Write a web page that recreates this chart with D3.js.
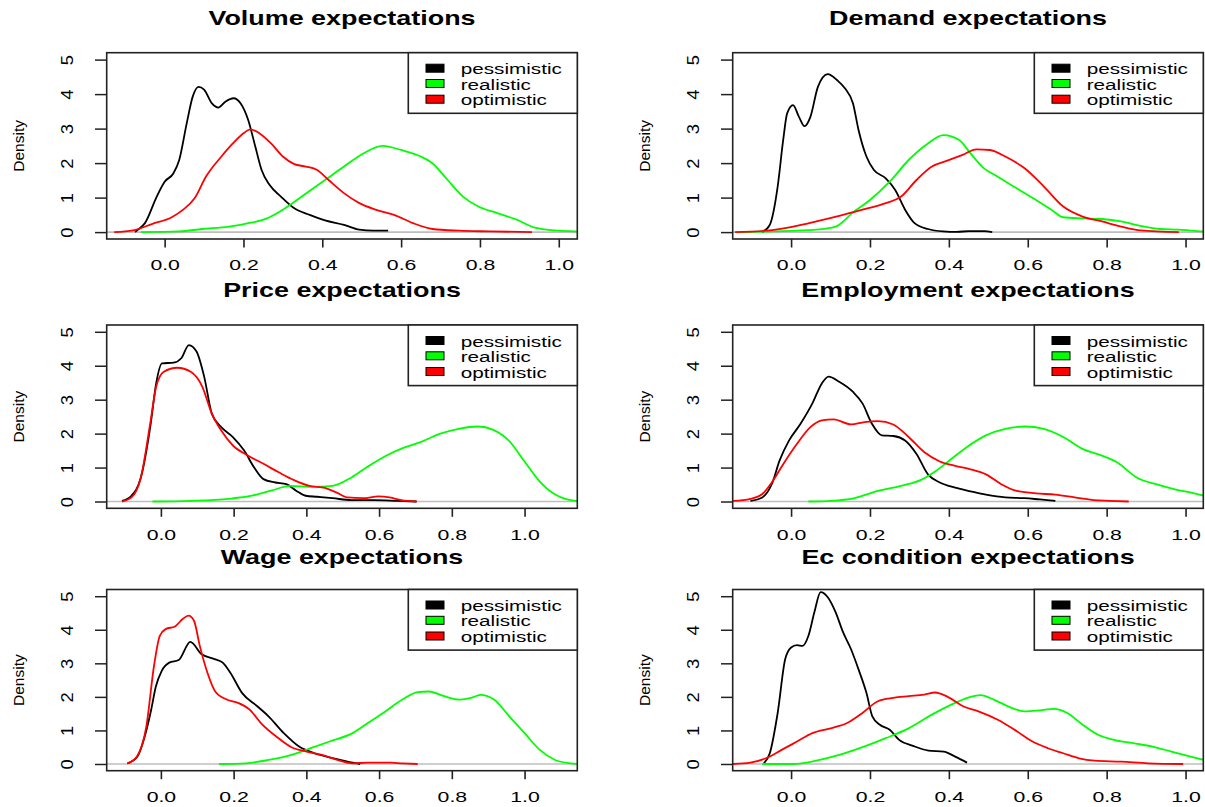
<!DOCTYPE html>
<html>
<head>
<meta charset="utf-8">
<script src="https://cdn.jsdelivr.net/npm/d3@7"></script>
<style>
  html, body { margin: 0; padding: 0; background: #ffffff; }
  svg { display: block; }
  text { font-family: "Liberation Sans", Arial, sans-serif; fill: #000; }
</style>
</head>
<body>
<svg id="chart" width="1205" height="807"></svg>
<script>
// ---------------- DATA ----------------
const titles = ["Volume expectations", "Demand expectations", "Price expectations",
                "Employment expectations", "Wage expectations", "Ec condition expectations"];
const seriesNames = ["pessimistic", "realistic", "optimistic"];
const seriesColors = ["#000000", "#00FF00", "#FF0000"];
const xTicks = [0, 0.2, 0.4, 0.6, 0.8, 1.0];
const xTickLabels = ["0.0", "0.2", "0.4", "0.6", "0.8", "1.0"];
const yTicks = [0, 1, 2, 3, 4, 5];
const yTickLabels = ["0", "1", "2", "3", "4", "5"];
const yRange = [-0.2, 5.2];
const xRangeMin = [-0.147, -0.148, -0.149, -0.148, -0.149, -0.148];
const xRangeMax = [1.047, 1.045, 1.145, 1.045, 1.145, 1.045];

// Volume
const volumePessimistic = [[-0.075,0],[-0.07,0.05],[-0.05,0.26],[-0.02,1.03],[0,1.46],[0.022,1.7],[0.037,2.09],[0.056,3.15],[0.071,3.92],[0.086,4.21],[0.10,4.13],[0.12,3.73],[0.136,3.61],[0.154,3.78],[0.175,3.88],[0.193,3.73],[0.212,3.25],[0.23,2.48],[0.246,1.80],[0.266,1.37],[0.295,1.03],[0.329,0.69],[0.368,0.50],[0.407,0.34],[0.455,0.21],[0.494,0.07],[0.53,0.04],[0.567,0.04]];
const volumeRealistic = [[-0.06,0],[0.037,0.02],[0.095,0.09],[0.163,0.16],[0.222,0.28],[0.26,0.40],[0.30,0.65],[0.348,1.03],[0.407,1.51],[0.455,1.90],[0.504,2.28],[0.553,2.50],[0.60,2.38],[0.65,2.19],[0.68,1.99],[0.718,1.51],[0.757,1.03],[0.796,0.74],[0.844,0.55],[0.893,0.36],[0.942,0.12],[0.99,0.05],[1.04,0.02],[1.06,0.01]];
const volumeOptimistic = [[-0.128,0],[-0.08,0.05],[-0.031,0.24],[0.018,0.43],[0.047,0.65],[0.076,0.98],[0.105,1.61],[0.144,2.19],[0.173,2.57],[0.202,2.88],[0.217,2.98],[0.241,2.86],[0.27,2.57],[0.30,2.19],[0.329,1.97],[0.358,1.90],[0.387,1.80],[0.416,1.51],[0.455,1.13],[0.494,0.84],[0.533,0.66],[0.582,0.50],[0.63,0.26],[0.68,0.09],[0.747,0.04],[0.825,0.02],[0.932,0]];

// Demand
const demandPessimistic = [[-0.073,0],[-0.054,0.21],[-0.034,1.32],[-0.02,2.67],[-0.01,3.44],[0.005,3.68],[0.02,3.34],[0.034,3.07],[0.049,3.34],[0.068,4.21],[0.093,4.58],[0.117,4.40],[0.137,4.16],[0.157,3.73],[0.171,2.96],[0.191,2.19],[0.21,1.80],[0.24,1.56],[0.264,1.22],[0.289,0.65],[0.313,0.26],[0.347,0.09],[0.386,0.02],[0.42,0.005],[0.45,0.03],[0.49,0.03],[0.51,0]];
const demandRealistic = [[-0.137,0],[-0.044,0.02],[0.064,0.07],[0.113,0.16],[0.16,0.60],[0.20,0.93],[0.25,1.46],[0.298,2.09],[0.347,2.57],[0.386,2.81],[0.426,2.67],[0.455,2.28],[0.484,1.90],[0.523,1.61],[0.572,1.27],[0.621,0.93],[0.66,0.65],[0.69,0.43],[0.739,0.40],[0.788,0.38],[0.837,0.31],[0.886,0.18],[0.934,0.09],[0.983,0.07],[1.042,0.02],[1.06,0.01]];
const demandOptimistic = [[-0.142,0],[-0.054,0.05],[0.005,0.16],[0.064,0.31],[0.122,0.47],[0.181,0.65],[0.24,0.84],[0.279,1.03],[0.318,1.51],[0.357,1.90],[0.396,2.07],[0.435,2.24],[0.47,2.40],[0.504,2.38],[0.543,2.19],[0.592,1.85],[0.641,1.32],[0.69,0.74],[0.739,0.45],[0.788,0.31],[0.837,0.16],[0.886,0.05],[0.983,0]];

// Price
const pricePessimistic = [[-0.107,0.02],[-0.081,0.17],[-0.055,0.71],[-0.028,2.29],[-0.013,3.48],[0.003,4.07],[0.035,4.09],[0.056,4.22],[0.077,4.61],[0.098,4.42],[0.119,3.68],[0.14,2.59],[0.166,2.19],[0.198,1.90],[0.229,1.50],[0.256,1.01],[0.282,0.66],[0.314,0.56],[0.345,0.51],[0.372,0.32],[0.398,0.17],[0.43,0.14],[0.472,0.10],[0.524,0.04],[0.587,0.04],[0.65,0.02],[0.703,0]];
const priceRealistic = [[-0.023,0],[0.082,0.02],[0.187,0.08],[0.25,0.17],[0.303,0.32],[0.356,0.46],[0.419,0.43],[0.472,0.46],[0.524,0.71],[0.566,1.01],[0.619,1.35],[0.672,1.60],[0.714,1.75],[0.766,1.99],[0.819,2.14],[0.872,2.21],[0.914,2.11],[0.956,1.80],[0.998,1.21],[1.04,0.61],[1.082,0.22],[1.114,0.07],[1.14,0.02],[1.16,0.01]];
const priceOptimistic = [[-0.107,0],[-0.081,0.12],[-0.055,0.71],[-0.028,2.39],[-0.013,3.38],[0.008,3.82],[0.045,3.94],[0.082,3.82],[0.114,3.38],[0.14,2.59],[0.166,2.09],[0.198,1.65],[0.24,1.35],[0.282,1.11],[0.324,0.86],[0.366,0.63],[0.408,0.46],[0.451,0.40],[0.482,0.27],[0.514,0.12],[0.556,0.10],[0.598,0.15],[0.629,0.12],[0.661,0.04],[0.703,0]];

// Employment
const employmentPessimistic = [[-0.103,0.02],[-0.073,0.12],[-0.049,0.51],[-0.029,1.21],[-0.005,1.80],[0.024,2.29],[0.054,2.89],[0.078,3.48],[0.095,3.68],[0.122,3.53],[0.157,3.23],[0.181,2.89],[0.205,2.29],[0.23,1.95],[0.259,1.93],[0.289,1.80],[0.318,1.40],[0.347,0.80],[0.377,0.56],[0.416,0.41],[0.455,0.30],[0.494,0.20],[0.543,0.12],[0.592,0.10],[0.631,0.06],[0.67,0.02]];
const employmentRealistic = [[0.044,0],[0.103,0.02],[0.161,0.10],[0.22,0.31],[0.279,0.46],[0.328,0.63],[0.367,0.90],[0.406,1.25],[0.445,1.60],[0.494,1.95],[0.543,2.14],[0.592,2.21],[0.641,2.14],[0.69,1.90],[0.739,1.55],[0.788,1.35],[0.827,1.15],[0.876,0.71],[0.925,0.51],[0.973,0.36],[1.022,0.24],[1.05,0.16]];
const employmentOptimistic = [[-0.147,0.02],[-0.103,0.08],[-0.073,0.22],[-0.049,0.56],[-0.02,1.10],[0.015,1.70],[0.049,2.19],[0.078,2.39],[0.108,2.42],[0.152,2.27],[0.186,2.34],[0.22,2.37],[0.259,2.27],[0.298,1.90],[0.338,1.45],[0.377,1.18],[0.416,1.05],[0.455,0.95],[0.494,0.80],[0.533,0.51],[0.572,0.31],[0.621,0.24],[0.67,0.20],[0.719,0.12],[0.768,0.04],[0.807,0.02],[0.856,0]];

// Wage
const wagePessimistic = [[-0.092,0.02],[-0.066,0.2],[-0.04,1.0],[-0.027,1.6],[-0.014,2.3],[0.002,2.77],[0.023,3.02],[0.049,3.10],[0.081,3.64],[0.112,3.27],[0.144,3.14],[0.17,3.02],[0.191,2.72],[0.223,2.12],[0.265,1.72],[0.296,1.42],[0.338,0.92],[0.38,0.52],[0.422,0.32],[0.475,0.17],[0.527,0.04],[0.548,0]];
const wageRealistic = [[0.16,0],[0.233,0.02],[0.296,0.12],[0.359,0.27],[0.412,0.47],[0.464,0.67],[0.527,0.92],[0.569,1.22],[0.611,1.52],[0.664,1.92],[0.706,2.14],[0.737,2.16],[0.779,2.02],[0.821,1.92],[0.853,1.97],[0.879,2.06],[0.916,1.92],[0.958,1.42],[1.0,0.92],[1.042,0.42],[1.084,0.12],[1.126,0.02],[1.15,0]];
const wageOptimistic = [[-0.092,0.02],[-0.066,0.22],[-0.04,1.12],[-0.019,2.92],[-0.003,3.82],[0.013,4.02],[0.039,4.10],[0.06,4.32],[0.076,4.42],[0.091,4.27],[0.107,3.52],[0.128,2.72],[0.149,2.17],[0.181,1.92],[0.212,1.82],[0.244,1.62],[0.275,1.22],[0.317,0.82],[0.359,0.50],[0.401,0.37],[0.443,0.27],[0.485,0.12],[0.527,0.02],[0.569,0.04],[0.632,0.04],[0.664,0.02],[0.706,0]];

// Ec condition
const ecPessimistic = [[-0.069,0.02],[-0.054,0.32],[-0.034,1.52],[-0.015,3.12],[0.0,3.47],[0.015,3.54],[0.029,3.52],[0.044,3.82],[0.059,4.52],[0.075,5.12],[0.093,4.97],[0.113,4.52],[0.132,3.92],[0.152,3.42],[0.171,2.82],[0.191,2.12],[0.206,1.42],[0.225,1.17],[0.25,1.02],[0.274,0.72],[0.309,0.54],[0.348,0.40],[0.387,0.37],[0.416,0.22],[0.446,0.04]];
const ecRealistic = [[-0.073,0],[0.005,0],[0.064,0.10],[0.122,0.27],[0.181,0.50],[0.24,0.77],[0.299,1.07],[0.357,1.47],[0.416,1.82],[0.455,2.00],[0.48,2.05],[0.514,1.92],[0.553,1.70],[0.592,1.57],[0.631,1.60],[0.666,1.64],[0.70,1.52],[0.739,1.17],[0.778,0.87],[0.818,0.72],[0.867,0.62],[0.916,0.52],[0.964,0.37],[1.013,0.22],[1.05,0.11]];
const ecOptimistic = [[-0.147,0],[-0.103,0.04],[-0.064,0.17],[-0.024,0.42],[0.015,0.67],[0.054,0.92],[0.103,1.07],[0.142,1.22],[0.181,1.52],[0.22,1.87],[0.259,1.97],[0.299,2.02],[0.338,2.07],[0.365,2.13],[0.397,2.00],[0.436,1.72],[0.475,1.57],[0.524,1.32],[0.573,0.97],[0.612,0.67],[0.651,0.47],[0.69,0.32],[0.73,0.17],[0.769,0.10],[0.837,0.07],[0.906,0.02],[0.994,0]];

const panelSeries = [
  [volumePessimistic, volumeRealistic, volumeOptimistic],
  [demandPessimistic, demandRealistic, demandOptimistic],
  [pricePessimistic, priceRealistic, priceOptimistic],
  [employmentPessimistic, employmentRealistic, employmentOptimistic],
  [wagePessimistic, wageRealistic, wageOptimistic],
  [ecPessimistic, ecRealistic, ecOptimistic]
];

// ---------------- LAYOUT ----------------
const svg = d3.select("#chart");
const boxW = 470.6;
const boxLefts = [106.7, 732.7];
const rowTops = [52.7, 325, 589.5];
const rowBottoms = [239, 508.3, 770.7];
const titleBaselines = [24.8, 296.8, 563.5];
const SX = 1.38; // horizontal stretch of upright text

function stretchedText(g, x, y, str, size, weight, anchor, rotate, sx) {
  return g.append("text")
    .attr("transform", `translate(${x},${y})` + (rotate ? " rotate(-90)" : "") + ` scale(${sx},1)`)
    .attr("text-anchor", anchor)
    .style("font-size", size + "px")
    .style("font-weight", weight)
    .text(str);
}

titles.forEach((title, i) => {
  const col = i % 2, row = Math.floor(i / 2);
  const left = boxLefts[col], right = left + boxW;
  const top = rowTops[row], bottom = rowBottoms[row];

  const x = d3.scaleLinear().domain([xRangeMin[i], xRangeMax[i]]).range([left, right]);
  const y = d3.scaleLinear().domain(yRange).range([bottom, top]);

  const g = svg.append("g");

  const clipId = "clip" + i;
  g.append("clipPath").attr("id", clipId)
    .append("rect").attr("x", left).attr("y", top).attr("width", boxW).attr("height", bottom - top);

  // zero line (gray)
  g.append("line")
    .attr("x1", left).attr("x2", right)
    .attr("y1", y(0)).attr("y2", y(0))
    .attr("stroke", "#BEBEBE").attr("stroke-width", 1.6);

  // density curves
  const line = d3.line().x(d => x(d[0])).y(d => y(d[1])).curve(d3.curveMonotoneX);
  const cg = g.append("g").attr("clip-path", `url(#${clipId})`);
  panelSeries[i].forEach((data, s) => {
    cg.append("path").datum(data)
      .attr("d", line)
      .attr("fill", "none")
      .attr("stroke", seriesColors[s])
      .attr("stroke-width", 1.8)
      .attr("stroke-linejoin", "round");
  });

  // box
  g.append("rect")
    .attr("x", left).attr("y", top).attr("width", boxW).attr("height", bottom - top)
    .attr("fill", "none").attr("stroke", "#222").attr("stroke-width", 1.6);

  // x axis
  const xAxis = g.append("g").attr("transform", `translate(0,${bottom})`)
    .call(d3.axisBottom(x).tickValues(xTicks).tickFormat((d, k) => xTickLabels[k]).tickSize(8.5).tickSizeOuter(0));
  xAxis.select(".domain").remove();
  xAxis.selectAll(".tick line").attr("stroke", "#222").attr("stroke-width", 1.6);
  xAxis.selectAll(".tick text")
    .attr("y", 31.5).attr("dy", null)
    .attr("transform", `scale(${SX},1)`)
    .style("font-size", "15.4px").style("font-family", "'Liberation Sans', Arial, sans-serif").attr("fill", "#000");

  // y axis
  const yAxis = g.append("g").attr("transform", `translate(${left},0)`)
    .call(d3.axisLeft(y).tickValues(yTicks).tickFormat((d, k) => yTickLabels[k]).tickSize(11.7).tickSizeOuter(0));
  yAxis.select(".domain").remove();
  yAxis.selectAll(".tick line").attr("stroke", "#222").attr("stroke-width", 1.5);
  yAxis.selectAll(".tick text")
    .attr("x", null).attr("dy", null)
    .attr("transform", "translate(-33.5,0) rotate(-90) scale(1.15,1)")
    .attr("text-anchor", "middle")
    .style("font-size", "16px").style("font-family", "'Liberation Sans', Arial, sans-serif").attr("fill", "#000");

  // y label
  stretchedText(g, left - 82.8, (top + bottom) / 2, "Density", 15.5, "normal", "middle", true, 1.0);

  // title
  stretchedText(g, (left + right) / 2, titleBaselines[row], title, 19.5, "bold", "middle", false, SX);

  // legend
  const legW = 169, legH = 60.6;
  const lx = right - legW, ly = top;
  g.append("rect").attr("x", lx).attr("y", ly).attr("width", legW).attr("height", legH)
    .attr("fill", "#fff").attr("stroke", "#222").attr("stroke-width", 1.6);
  const rowCenters = [15.5, 30.8, 46.5];
  seriesNames.forEach((name, s) => {
    const cy = ly + rowCenters[s];
    g.append("rect").attr("x", lx + 17.7).attr("y", cy - 4).attr("width", 18).attr("height", 8)
      .attr("fill", seriesColors[s]).attr("stroke", "#000").attr("stroke-width", 1);
    stretchedText(g, lx + 52.4, cy + 6, name, 15, "normal", "start", false, SX);
  });
});
</script>
</body>
</html>
